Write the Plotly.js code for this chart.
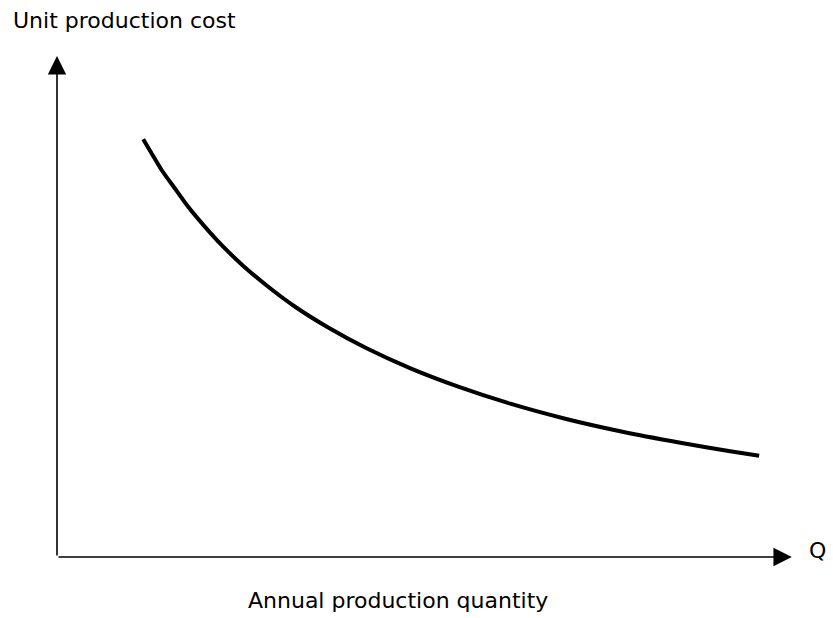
<!DOCTYPE html>
<html>
<head>
<meta charset="utf-8">
<script src="https://cdn.plot.ly/plotly-3.0.1.min.js"></script>
<style>html,body{margin:0;padding:0;background:#fff;}#chart{width:833px;height:618px;}</style>
</head>
<body>
<div id="chart"></div>
<script>
// Annual production quantity (arbitrary units, 0-100 scale)
const quantity = [11.6, 12.8, 14.1, 15.8, 17.6, 19.8, 22.2, 25.0, 28.3, 32.0,
                  36.5, 41.6, 47.5, 54.0, 61.0, 68.4, 75.8, 83.9, 90.6, 94.5];
// Unit production cost (arbitrary units, 0-100 scale)
const unitCost = [83.4, 80.4, 77.2, 73.7, 70.0, 66.1, 62.2, 58.2, 54.1, 50.0,
                  45.8, 41.7, 37.7, 34.0, 30.6, 27.6, 25.1, 22.8, 21.1, 20.2];

const titleText = "Unit production cost";
const xTitleText = "Annual production quantity";
const xEndLabel = "Q";

const FONT = "DejaVu Sans, Liberation Sans, sans-serif";

const trace = {
  x: quantity,
  y: unitCost,
  type: "scatter",
  mode: "lines",
  line: {color: "#000", width: 4, shape: "spline", smoothing: 0.6},
  hoverinfo: "skip",
  showlegend: false
};

const hiddenAxis = {
  range: [0, 100],
  showgrid: false,
  zeroline: false,
  showline: false,
  showticklabels: false,
  ticks: "",
  fixedrange: true
};

const layout = {
  width: 833,
  height: 618,
  margin: {l: 57, r: 33, t: 56, b: 61},
  paper_bgcolor: "#fff",
  plot_bgcolor: "#fff",
  font: {family: FONT, color: "#000", size: 22},
  title: {
    text: titleText,
    xref: "container", yref: "container",
    x: 0.0156, xanchor: "left",
    y: 0.967, yanchor: "middle",
    font: {family: FONT, size: 22, color: "#000"}
  },
  xaxis: Object.assign({}, hiddenAxis),
  yaxis: Object.assign({}, hiddenAxis),
  annotations: [
    // y axis with arrow
    {x: 0, y: 100, ax: 0, ay: 0, xref: "x", yref: "y", axref: "x", ayref: "y",
     text: "", showarrow: true, arrowhead: 2, arrowsize: 2.3, arrowwidth: 1.6, arrowcolor: "#000"},
    // x axis with arrow
    {x: 98.9, y: 0, ax: 0, ay: 0, xref: "x", yref: "y", axref: "x", ayref: "y",
     text: "", showarrow: true, arrowhead: 2, arrowsize: 2.3, arrowwidth: 1.6, arrowcolor: "#000"},
    {x: 1.024, y: 0.012, xref: "paper", yref: "paper", text: xEndLabel, showarrow: false,
     xanchor: "center", yanchor: "middle", font: {family: FONT, size: 22, color: "#000"}},
    {x: 0.459, y: -0.086, xref: "paper", yref: "paper", text: xTitleText, showarrow: false,
     xanchor: "center", yanchor: "middle", font: {family: FONT, size: 22, color: "#000"}}
  ]
};

Plotly.newPlot("chart", [trace], layout, {displayModeBar: false, staticPlot: true});
</script>
</body>
</html>
